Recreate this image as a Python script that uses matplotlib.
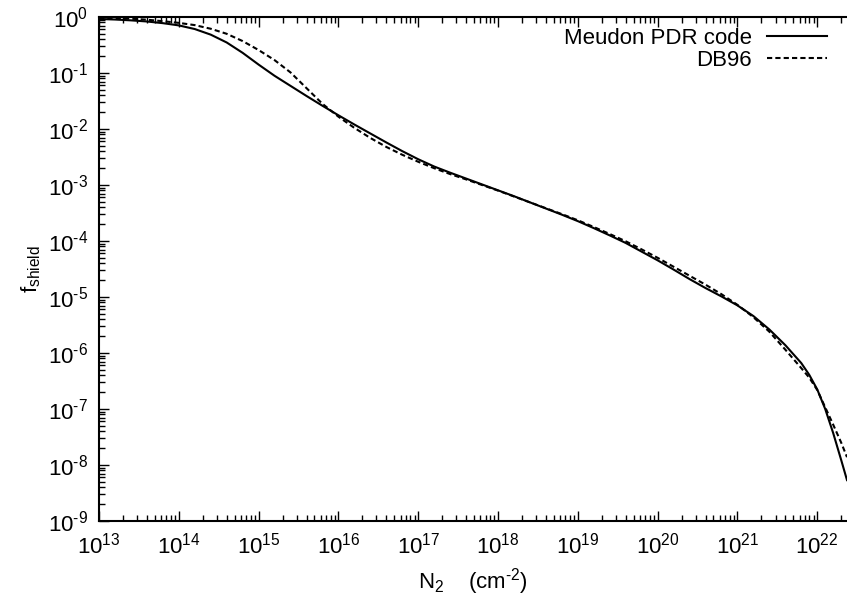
import numpy as np
import matplotlib
matplotlib.use("Agg")
from matplotlib import pyplot as plt
from matplotlib.ticker import FixedLocator, NullFormatter, FuncFormatter

plt.rcParams['font.family'] = ['Liberation Sans', 'DejaVu Sans']
plt.rcParams['mathtext.fontset'] = 'custom'
plt.rcParams['mathtext.rm'] = 'Liberation Sans'
plt.rcParams['mathtext.it'] = 'Liberation Sans:italic'
plt.rcParams['mathtext.default'] = 'regular'

# log10 of column density N2 (cm^-2) and log10 of shielding factor
meudon_logN = [13.0, 13.2, 13.4, 13.6, 13.8, 14.0, 14.2, 14.4, 14.6, 14.8,
               15.0, 15.2, 15.4, 15.6, 15.8, 16.0, 16.2, 16.4, 16.6, 16.8,
               17.0, 17.2, 17.4, 17.6, 17.8, 18.0, 18.2, 18.4, 18.6, 18.8,
               19.0, 19.2, 19.4, 19.6, 19.8, 20.0, 20.2, 20.4, 20.6, 20.8,
               21.0, 21.2, 21.4, 21.6, 21.8, 21.9, 22.0, 22.1, 22.2, 22.3, 22.373]
meudon_logf = [-0.035, -0.045, -0.06, -0.08, -0.11, -0.15, -0.215, -0.315, -0.455, -0.64,
               -0.85, -1.05, -1.23, -1.41, -1.585, -1.755, -1.92, -2.08, -2.24, -2.395,
               -2.54, -2.67, -2.78, -2.885, -2.99, -3.095, -3.20, -3.31, -3.42, -3.53,
               -3.645, -3.77, -3.90, -4.035, -4.19, -4.345, -4.51, -4.68, -4.84, -4.99,
               -5.15, -5.34, -5.58, -5.86, -6.18, -6.39, -6.65, -7.0, -7.43, -7.91, -8.27]

db96_logN = [13.0, 13.2, 13.4, 13.6, 13.8, 14.0, 14.2, 14.4, 14.6, 14.8,
             15.0, 15.2, 15.4, 15.6, 15.8, 16.0, 16.2, 16.4, 16.6, 16.8,
             17.0, 17.2, 17.4, 17.6, 17.8, 18.0, 18.2, 18.4, 18.6, 18.8,
             19.0, 19.2, 19.4, 19.6, 19.8, 20.0, 20.2, 20.4, 20.6, 20.8,
             21.0, 21.2, 21.4, 21.6, 21.8, 21.9, 22.0, 22.1, 22.2, 22.3, 22.373]
db96_logf = [-0.015, -0.02, -0.03, -0.048, -0.075, -0.105, -0.145, -0.21, -0.30, -0.43,
             -0.59, -0.77, -0.99, -1.27, -1.55, -1.78, -1.98, -2.16, -2.32, -2.46,
             -2.585, -2.70, -2.805, -2.90, -3.0, -3.10, -3.205, -3.31, -3.415, -3.52,
             -3.63, -3.75, -3.875, -4.005, -4.15, -4.30, -4.46, -4.62, -4.78, -4.95,
             -5.14, -5.36, -5.62, -5.94, -6.27, -6.44, -6.66, -6.97, -7.28, -7.60, -7.86]

x_max_exp = 22.373
x_major = 10.0**np.arange(13, 23)
y_major = 10.0**np.arange(-9, 1)
x_minor = [m * 10.0**e for e in range(13, 23) for m in range(2, 10) if m * 10.0**e < 10**x_max_exp]
y_minor = [m * 10.0**e for e in range(-9, 0) for m in range(2, 10)]


# gnuplot style labels: plain hyphen in the exponent
def pow10_label(v, pos):
    e = int(round(np.log10(v)))
    if e < 0:
        return r'$10^{\text{-}%d}$' % (-e)
    return r'$10^{%d}$' % e


fig = plt.figure(figsize=(8.47, 5.96), dpi=100)
ax = fig.add_axes([99/847, 75/596, 748/847, 504/596])

ax.plot(10**np.array(meudon_logN), 10**np.array(meudon_logf), color='black',
        lw=1.5, label='Meudon PDR code')
ax.plot(10**np.array(db96_logN), 10**np.array(db96_logf), color='black',
        lw=1.5, dashes=(2.5, 1.5), label='DB96')

ax.set_xscale('log')
ax.set_yscale('log')
ax.set_xlim(1e13, 10**x_max_exp)
ax.set_ylim(1e-9, 1)

ax.xaxis.set_major_locator(FixedLocator(x_major))
ax.yaxis.set_major_locator(FixedLocator(y_major))
ax.xaxis.set_minor_locator(FixedLocator(x_minor))
ax.yaxis.set_minor_locator(FixedLocator(y_minor))
ax.xaxis.set_major_formatter(FuncFormatter(pow10_label))
ax.yaxis.set_major_formatter(FuncFormatter(pow10_label))
ax.xaxis.set_minor_formatter(NullFormatter())
ax.yaxis.set_minor_formatter(NullFormatter())

ax.spines['right'].set_visible(False)
for s in ('left', 'bottom', 'top'):
    ax.spines[s].set_linewidth(1.5)
ax.tick_params(which='both', direction='in', top=True, right=False, width=1)
ax.tick_params(which='major', length=7, labelsize=16, pad=8)
ax.tick_params(which='minor', length=4)

ax.set_xlabel(r'N$_2$    (cm$^{\text{-}2}$)', fontsize=16, labelpad=6)
ax.set_ylabel(r'f$_{shield}$', fontsize=16, labelpad=3)

ax.legend(loc='upper right', bbox_to_anchor=(0.9733, 0.978), frameon=False,
          markerfirst=False, fontsize=16, borderpad=0, borderaxespad=0,
          handlelength=2.7, handletextpad=0.68, labelspacing=0.05)

fig.savefig('out.png', dpi=100)
